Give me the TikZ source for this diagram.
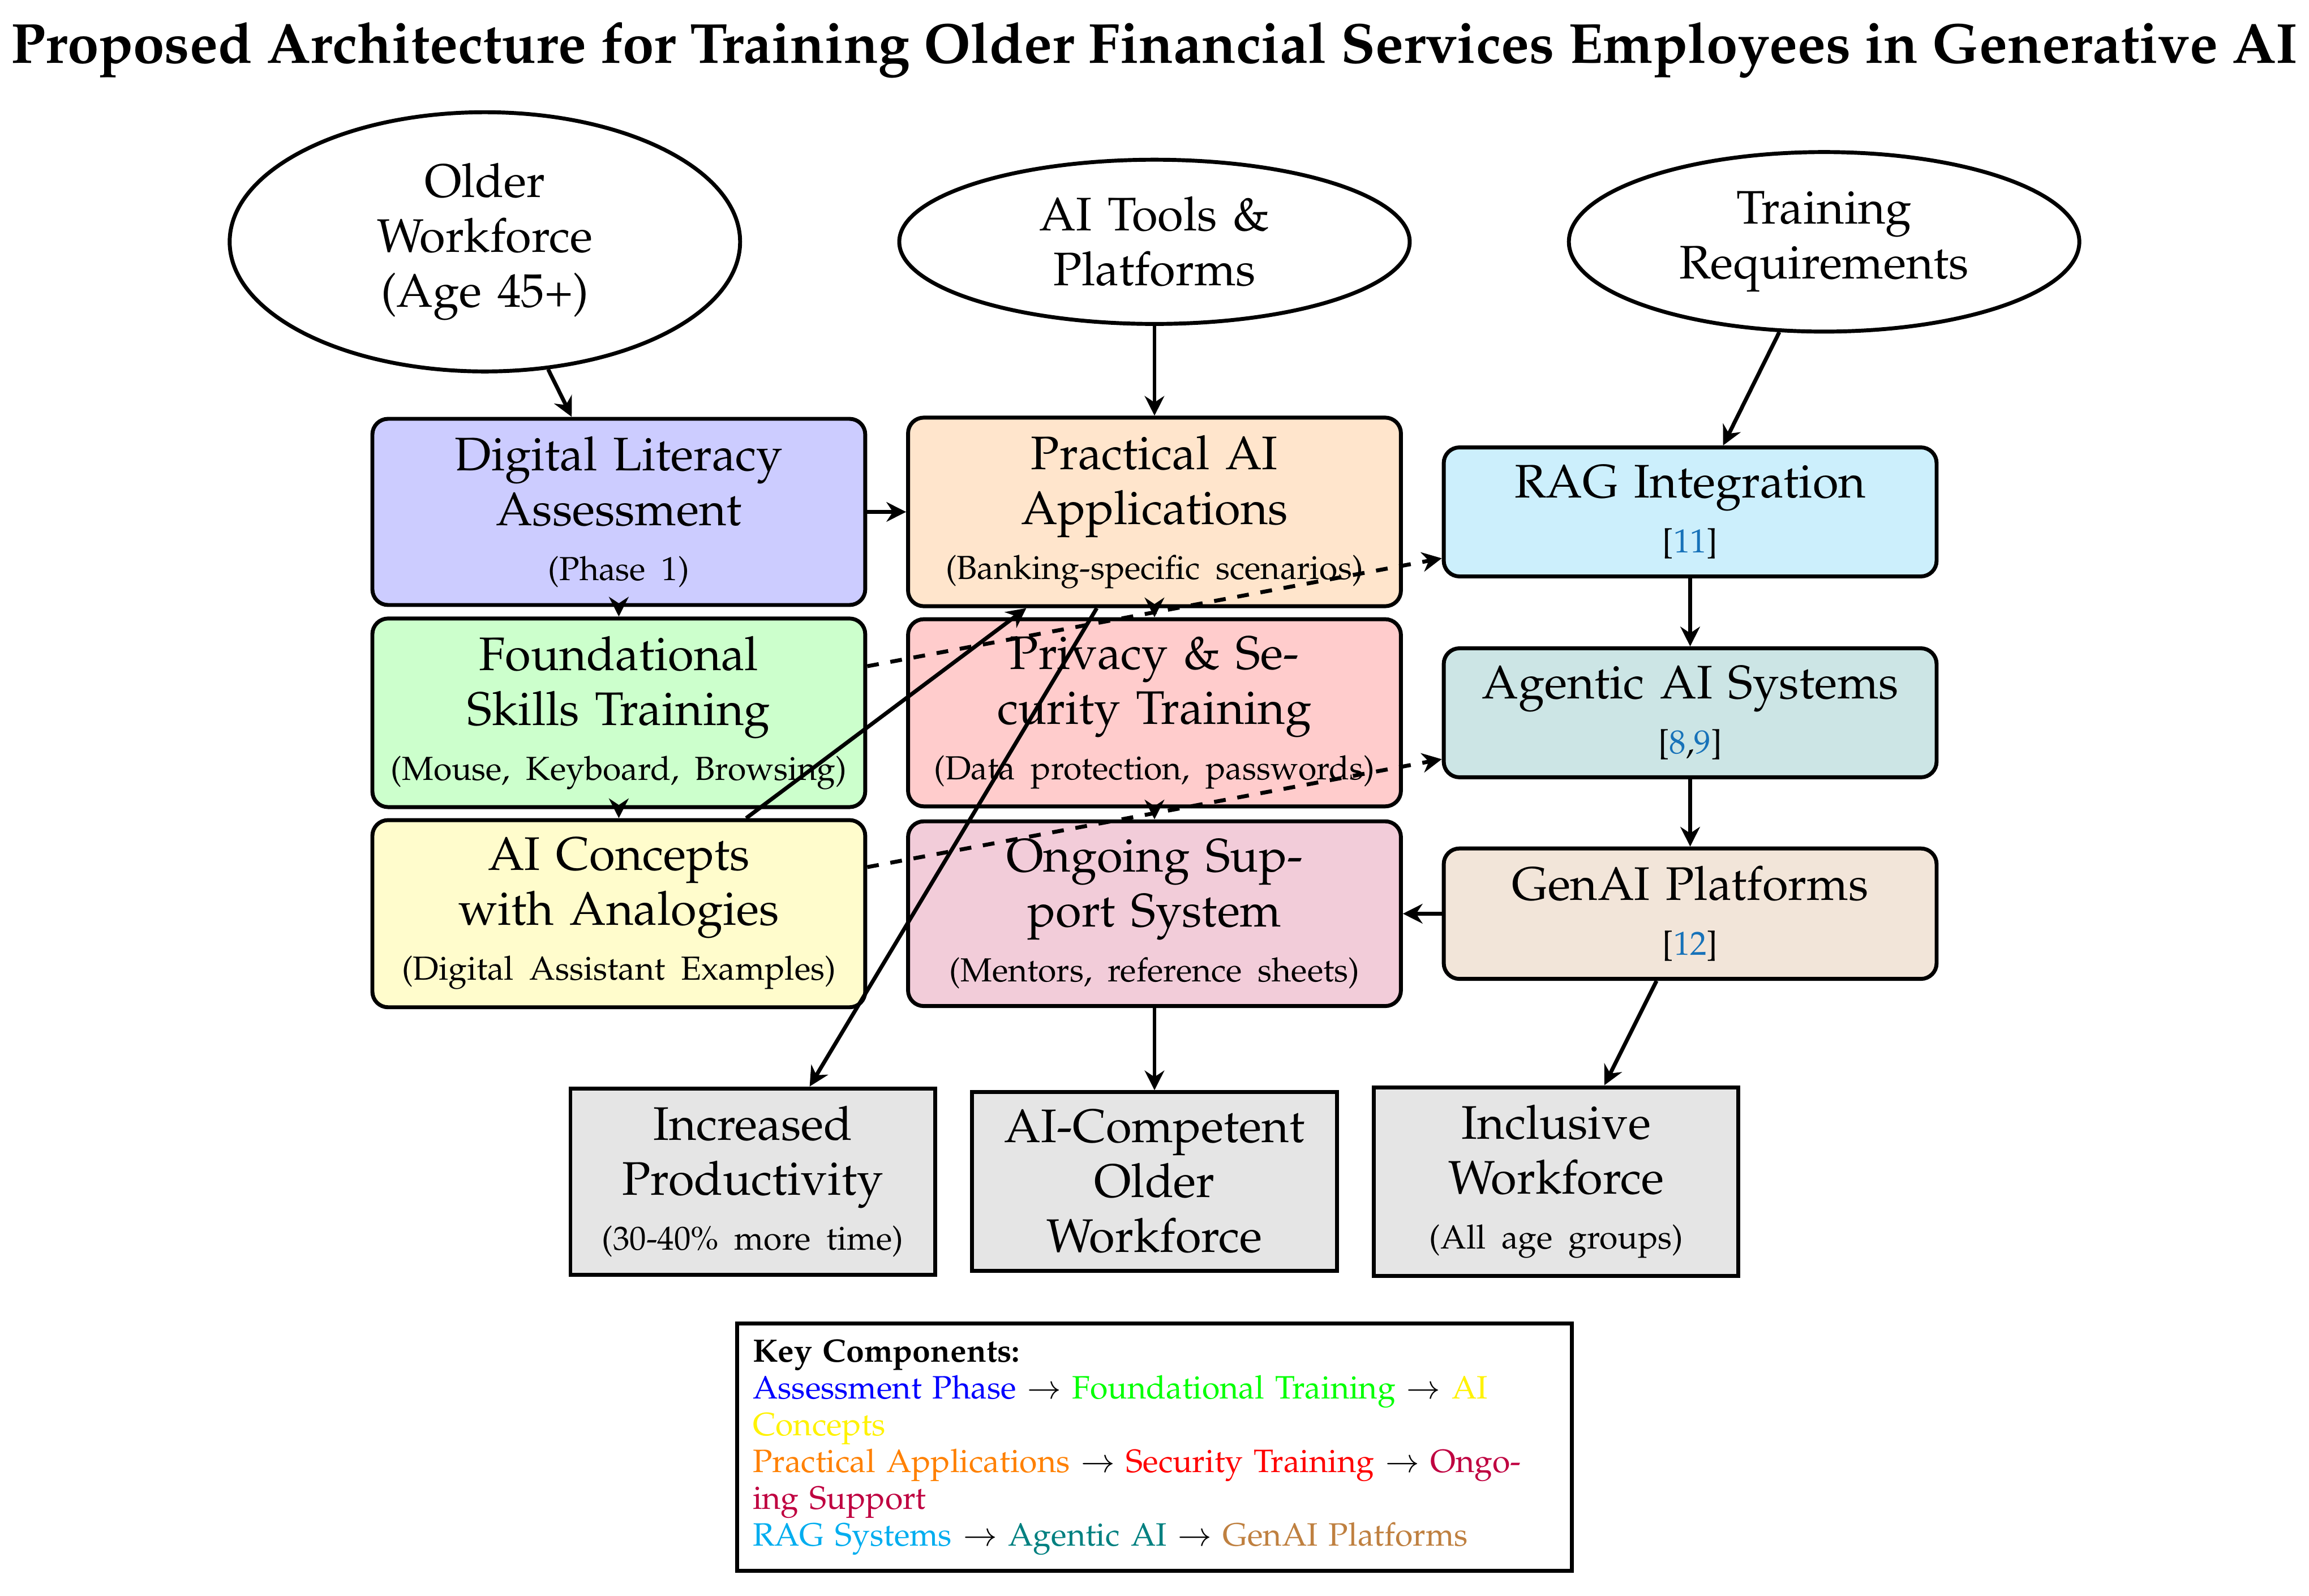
\documentclass[tikz,border=0pt]{standalone}
\usepackage[T1]{fontenc}
\usepackage{mathpazo}
\usepackage{xcolor}
\usepackage{tikz}
\usetikzlibrary{arrows.meta, shapes.geometric, positioning}
\definecolor{citeblue}{RGB}{23,114,185}
\newcommand{\cnum}[1]{\textcolor{citeblue}{#1}}
\newcommand{\boxnote}[1]{{\fontsize{8.5}{10}\selectfont #1}}

\begin{document}
\begin{tikzpicture}[
  node distance = 1.8cm and 4.8cm, on grid,
  phase/.style  = {rectangle, draw, line width=1pt, rounded corners=4pt,
                   inner sep=4.5pt, text width=4.1cm, align=center, font=\large},
  source/.style = {ellipse, draw, line width=1pt, text width=3cm,
                   align=center, font=\large},
  result/.style = {rectangle, draw, line width=1pt, fill=gray!20, inner sep=4.5pt,
                   text width=2.95cm, align=center, font=\large},
  keybox/.style = {rectangle, draw, line width=1pt, text width=7.2cm, align=left,
                   font=\fontsize{8.25}{9.4}\selectfont, inner sep=4pt},
  arr/.style    = {-{Stealth[length=5pt, width=5pt]}, line width=1pt}
]
  \useasboundingbox (-10.345,4.587) rectangle (10.345,-9.713);

  \node[phase, fill=orange!20] (practical)
        {Practical AI Applications\\\boxnote{(Banking-specific scenarios)}};
  \node[phase, fill=blue!20, left=of practical] (literacy)
        {Digital Literacy\\Assessment\\\boxnote{(Phase 1)}};
  \node[phase, fill=cyan!20, right=of practical] (rag)
        {RAG Integration\\\boxnote{[\cnum{11}]}};
  \node[phase, fill=green!20, below=of literacy] (skills)
        {Foundational Skills Training\\\boxnote{(Mouse, Keyboard, Browsing)}};
  \node[phase, fill=red!20, below=of practical] (privacy)
        {Privacy \& Security Training\\\boxnote{(Data protection, passwords)}};
  \node[phase, fill=teal!20, below=of rag] (agentic)
        {Agentic AI Systems\\\boxnote{[\cnum{8},\cnum{9}]}};
  \node[phase, fill=yellow!20, below=of skills] (concepts)
        {AI Concepts with Analogies\\\boxnote{(Digital Assistant Examples)}};
  \node[phase, fill=purple!20, below=of privacy] (support)
        {Ongoing Support System\\\boxnote{(Mentors, reference sheets)}};
  \node[phase, fill=brown!20, below=of agentic] (genai)
        {GenAI Platforms\\\boxnote{[\cnum{12}]}};

  \node[source, above=2.42cm of literacy, xshift=-1.2cm] (older) {Older\\Workforce\\(Age 45+)};
  \node[source, above=2.42cm of practical] (tools) {AI Tools \& Platforms};
  \node[source, above=2.42cm of rag, xshift=1.2cm] (needs) {Training Requirements};

  \node[result, below=2.4cm of support] (competent) {AI-Competent Older Workforce};
  \node[result, left=3.6cm of competent] (productivity)
        {Increased Productivity\\\boxnote{(30-40\% more time)}};
  \node[result, right=3.6cm of competent] (inclusive)
        {Inclusive Workforce\\\boxnote{(All age groups)}};

  \node[keybox, below=2.38cm of competent] (key)
        {\textbf{Key Components:}\\
         \textcolor{blue}{Assessment Phase} $\rightarrow$ \textcolor{green}{Foundational Training} $\rightarrow$ \textcolor{yellow}{AI Concepts}\\
         \textcolor{orange}{Practical Applications} $\rightarrow$ \textcolor{red}{Security Training} $\rightarrow$ \textcolor{purple}{Ongoing Support}\\
         \textcolor{cyan}{RAG Systems} $\rightarrow$ \textcolor{teal}{Agentic AI} $\rightarrow$ \textcolor{brown}{GenAI Platforms}};

  \node[font=\Large\bfseries, above=1.72cm of tools] (title)
        {Proposed Architecture for Training Older Financial Services Employees in Generative AI};

  \draw[arr] (older) -- (literacy);
  \draw[arr] (tools) -- (practical);
  \draw[arr] (needs) -- (rag);
  \draw[arr] (literacy) -- (practical);
  \draw[arr] (literacy) -- (skills);
  \draw[arr] (skills) -- (concepts);
  \draw[arr] (practical) -- (privacy);
  \draw[arr] (privacy) -- (support);
  \draw[arr] (rag) -- (agentic);
  \draw[arr] (agentic) -- (genai);
  \draw[arr] (genai) -- (support);
  \draw[arr, dashed] (skills) -- (rag);
  \draw[arr, dashed] (concepts) -- (agentic);
  \draw[arr] (concepts) -- (practical);
  \draw[arr] (practical) -- (productivity);
  \draw[arr] (support) -- (competent);
  \draw[arr] (genai) -- (inclusive);
\end{tikzpicture}
\end{document}
